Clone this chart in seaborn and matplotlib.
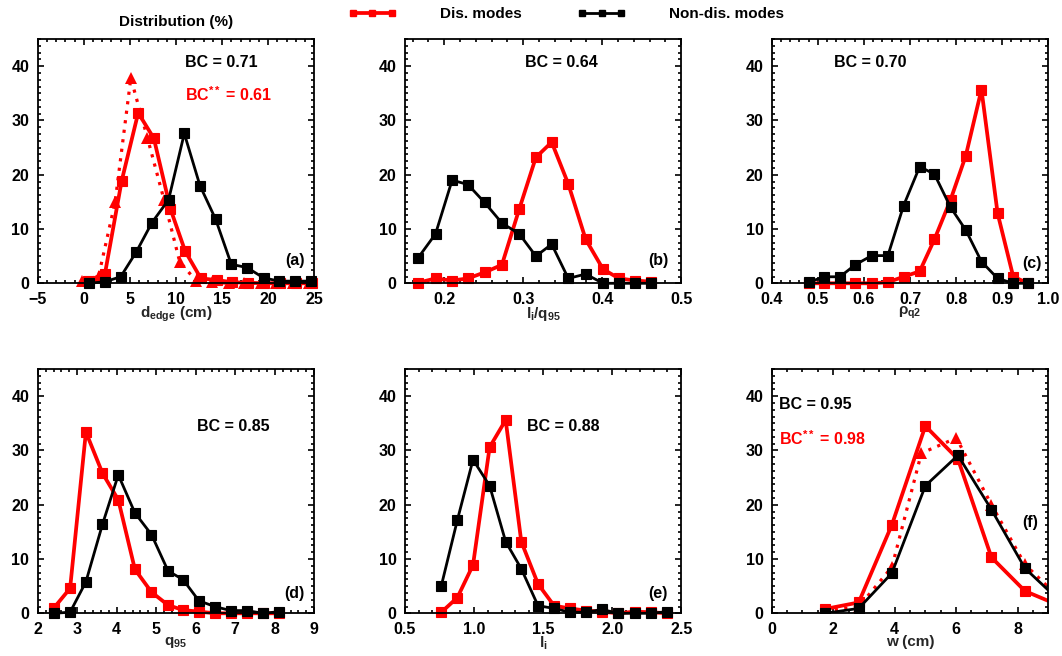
import matplotlib
matplotlib.use("Agg")
import matplotlib.pyplot as plt
import seaborn as sns
from matplotlib.ticker import MultipleLocator
from matplotlib.lines import Line2D

# ---------------- data: distributions (%) of disruptive / non-disruptive modes
# (a) distance to edge, cm
a_x_nd = [0.6, 2.3, 4.0, 5.7, 7.4, 9.2, 10.9, 12.6, 14.3, 16.0, 17.7, 19.5, 21.2, 22.9, 24.6]
a_y_nd = [0.0, 0.3, 1.2, 5.8, 11.2, 15.4, 27.6, 18.0, 11.8, 3.5, 2.9, 1.0, 0.4, 0.4, 0.4]
a_x_d = [0.5, 2.3, 4.1, 5.9, 7.6, 9.4, 11.0, 12.7, 14.4, 16.1, 17.8, 19.6, 21.3, 23.0, 24.7]
a_y_d = [0.5, 1.8, 18.8, 31.4, 26.7, 13.7, 5.9, 0.9, 0.6, 0.2, 0.1, 0.0, 0.0, 0.0, 0.0]
a_x_dd = [-0.2, 1.6, 3.4, 5.1, 6.9, 8.7, 10.4, 12.2, 13.9, 15.7, 17.4, 19.2, 20.9, 22.7, 24.4]
a_y_dd = [0.5, 1.3, 15.0, 37.8, 26.8, 15.4, 4.0, 0.4, 0.2, 0.0, 0.0, 0.0, 0.0, 0.0, 0.0]

# (b) li/q95
b_x = [0.167, 0.189, 0.210, 0.230, 0.251, 0.273, 0.295, 0.316, 0.336, 0.357, 0.379, 0.401, 0.421, 0.442, 0.462]
b_y_nd = [4.7, 9.1, 19.0, 18.2, 14.9, 11.1, 9.1, 5.0, 7.2, 0.9, 1.7, 0.0, 0.0, 0.0, 0.0]
b_y_d = [0.1, 0.9, 0.5, 0.9, 2.0, 3.4, 13.7, 23.2, 26.0, 18.3, 8.1, 2.6, 0.9, 0.5, 0.3]

# (c) rho_q2
c_x = [0.480, 0.514, 0.548, 0.581, 0.617, 0.652, 0.686, 0.721, 0.753, 0.788, 0.821, 0.855, 0.890, 0.924, 0.957]
c_y_nd = [0.2, 1.2, 1.2, 3.4, 5.1, 5.1, 14.3, 21.5, 20.1, 14.0, 9.8, 4.0, 0.9, 0.0, 0.0]
c_y_d = [0.0, 0.0, 0.0, 0.0, 0.0, 0.2, 1.2, 2.2, 8.1, 15.4, 23.5, 35.7, 12.9, 1.2, 0.0]

# (d) q95
d_x = [2.40, 2.82, 3.22, 3.64, 4.04, 4.46, 4.88, 5.30, 5.68, 6.08, 6.50, 6.89, 7.29, 7.71, 8.11]
d_y_nd = [0.0, 0.2, 5.8, 16.4, 25.5, 18.5, 14.5, 7.8, 6.2, 2.3, 1.2, 0.5, 0.5, 0.0, 0.3]
d_y_d = [0.9, 4.6, 33.4, 25.8, 20.9, 8.1, 3.9, 1.5, 0.6, 0.3, 0.0, 0.0, 0.0, 0.0, 0.0]

# (e) li
e_x = [0.765, 0.881, 0.994, 1.114, 1.230, 1.343, 1.464, 1.580, 1.693, 1.808, 1.929, 2.042, 2.163, 2.278, 2.399]
e_y_nd = [5.1, 17.2, 28.3, 23.5, 13.2, 8.2, 1.4, 0.9, 0.2, 0.2, 0.7, 0.0, 0.0, 0.0, 0.3]
e_y_d = [0.2, 2.9, 8.9, 30.6, 35.6, 13.2, 5.4, 1.4, 0.9, 0.5, 0.3, 0.0, 0.3, 0.2, 0.0]

# (f) island width, cm
f_x = [1.74, 2.83, 3.91, 5.00, 6.06, 7.15, 8.24, 9.33]
f_y_nd = [0.0, 0.9, 7.4, 23.5, 29.1, 19.1, 8.3, 2.5]
f_y_d = [0.8, 2.0, 16.3, 34.5, 28.4, 10.3, 4.1, 1.5]
f_x_dd = [1.74, 2.83, 3.91, 4.87, 6.01, 7.15, 8.24, 9.33]
f_y_dd = [0.5, 1.2, 8.5, 29.5, 32.3, 20.0, 9.0, 3.0]

bc_values = ["0.71", "0.64", "0.70", "0.85", "0.88", "0.95"]
bc2_values = {"a": "0.61", "f": "0.98"}
panel_tags = ["(a)", "(b)", "(c)", "(d)", "(e)", "(f)"]
series_names = ["Dis. modes", "Non-dis. modes"]

RED = "#ff0000"
BLACK = "#000000"

sns.set_theme(style="ticks")
plt.rcParams.update({
    "font.family": ["Liberation Sans", "DejaVu Sans"],
    "font.weight": "bold",
    "axes.labelweight": "bold",
    "mathtext.fontset": "custom",
    "mathtext.rm": "Liberation Sans:bold",
    "mathtext.it": "Liberation Sans:bold",
    "mathtext.bf": "Liberation Sans:bold",
    "mathtext.sf": "Liberation Sans:bold",
    "axes.linewidth": 1.3,
    "axes.edgecolor": "black",
    "xtick.color": "black",
    "ytick.color": "black",
    "text.color": "black",
})

fig = plt.figure(figsize=(10.62, 6.56), dpi=100)
gs = fig.add_gridspec(2, 3, left=0.0355, right=0.9871, top=0.9405, bottom=0.0651,
                      wspace=0.327, hspace=0.351)
axes = [fig.add_subplot(gs[i, j]) for i in range(2) for j in range(3)]

panels = [
    dict(xd=a_x_d, yd=a_y_d, xn=a_x_nd, yn=a_y_nd, xdd=a_x_dd, ydd=a_y_dd,
         xlim=(-5, 25), major=5, minor=1, xlabel=r"d$_{edge}$ (cm)",
         bc=(0.531, 0.902), bc2=(0.531, 0.771), bc2txt=bc2_values["a"], tag=(0.964, 0.095)),
    dict(xd=b_x, yd=b_y_d, xn=b_x, yn=b_y_nd,
         xlim=(0.15, 0.5), major=0.1, minor=0.02, xlabel=r"l$_i$/q$_{95}$",
         bc=(0.434, 0.902), tag=(0.952, 0.095)),
    dict(xd=c_x, yd=c_y_d, xn=c_x, yn=c_y_nd,
         xlim=(0.4, 1.0), major=0.1, minor=0.02, xlabel=r"$\rho_{q2}$",
         bc=(0.226, 0.902), tag=(0.977, 0.083)),
    dict(xd=d_x, yd=d_y_d, xn=d_x, yn=d_y_nd,
         xlim=(2, 9), major=1, minor=0.2, xlabel=r"q$_{95}$",
         bc=(0.575, 0.763), tag=(0.964, 0.083)),
    dict(xd=e_x, yd=e_y_d, xn=e_x, yn=e_y_nd,
         xlim=(0.5, 2.5), major=0.5, minor=0.1, xlabel=r"l$_i$",
         bc=(0.441, 0.763), tag=(0.95, 0.083)),
    dict(xd=f_x, yd=f_y_d, xn=f_x, yn=f_y_nd, xdd=f_x_dd, ydd=f_y_dd,
         xlim=(0, 9), major=2, minor=0.5, xlabel="w (cm)",
         bc=(0.026, 0.853), bc2=(0.026, 0.717), bc2txt=bc2_values["f"], tag=(0.963, 0.37)),
]

for k, (ax, p) in enumerate(zip(axes, panels)):
    inside = max(p["xd"]) <= p["xlim"][1] and max(p["xn"]) <= p["xlim"][1]
    if "xdd" in p:
        sns.lineplot(x=p["xdd"], y=p["ydd"], ax=ax, color=RED, linewidth=2.3,
                     linestyle=(0, (1, 2)), marker="^", markersize=8,
                     markeredgecolor=RED, markeredgewidth=0,
                     estimator=None, sort=False)
    sns.lineplot(x=p["xd"], y=p["yd"], ax=ax, color=RED, linewidth=2.7,
                 marker="s", markersize=7.4, markeredgecolor=RED, markeredgewidth=0.8,
                 estimator=None, sort=False)
    sns.lineplot(x=p["xn"], y=p["yn"], ax=ax, color=BLACK, linewidth=2.0,
                 marker="s", markersize=6.8, markeredgecolor=BLACK, markeredgewidth=0.8,
                 estimator=None, sort=False)
    if inside:
        for ln in ax.lines:
            ln.set_clip_on(False)

    ax.set_xlim(*p["xlim"])
    ax.set_ylim(0, 45)
    ax.xaxis.set_major_locator(MultipleLocator(p["major"]))
    ax.xaxis.set_minor_locator(MultipleLocator(p["minor"]))
    ax.yaxis.set_major_locator(MultipleLocator(10))
    ax.yaxis.set_minor_locator(MultipleLocator(1.25))
    ax.set_yticks([0, 10, 20, 30, 40])
    ax.tick_params(which="both", direction="in", top=True, right=True,
                   width=1.2, labelsize=11.5, pad=6)
    ax.tick_params(which="major", length=4)
    ax.tick_params(which="minor", length=2.2)
    for lab in ax.get_xticklabels() + ax.get_yticklabels():
        lab.set_fontweight("bold")
    ax.set_xlabel(p["xlabel"], fontsize=11, fontweight="bold", labelpad=-1.5)
    ax.set_ylabel("")

    ax.text(p["bc"][0], p["bc"][1], "BC = " + bc_values[k], transform=ax.transAxes,
            ha="left", va="center", fontsize=11.5, fontweight="bold", color=BLACK)
    if "bc2" in p:
        ax.text(p["bc2"][0], p["bc2"][1], r"BC$^{**}$ = " + p["bc2txt"],
                transform=ax.transAxes, ha="left", va="center",
                fontsize=11.5, fontweight="bold", color=RED)
    ax.text(p["tag"][0], p["tag"][1], panel_tags[k], transform=ax.transAxes,
            ha="right", va="center", fontsize=11.5, fontweight="bold")

fig.text(176 / 1062, 1 - 22 / 656, "Distribution (%)", ha="center", va="center",
         fontsize=11, fontweight="bold")

handles = [
    Line2D([], [], color=RED, linewidth=2.7, marker="s", markersize=5,
           markeredgecolor=RED),
    Line2D([], [], color=BLACK, linewidth=2.0, marker="s", markersize=4.5,
           markeredgecolor=BLACK),
]
fig.legend(handles, series_names, loc="center left",
           bbox_to_anchor=(348 / 1062, 1 - 14 / 656), ncol=2, frameon=False,
           numpoints=3, handlelength=3.2, handletextpad=2.8, columnspacing=3.65,
           borderpad=0, borderaxespad=0,
           prop={"size": 11, "weight": "bold"})

fig.savefig("out.png", dpi=100)
